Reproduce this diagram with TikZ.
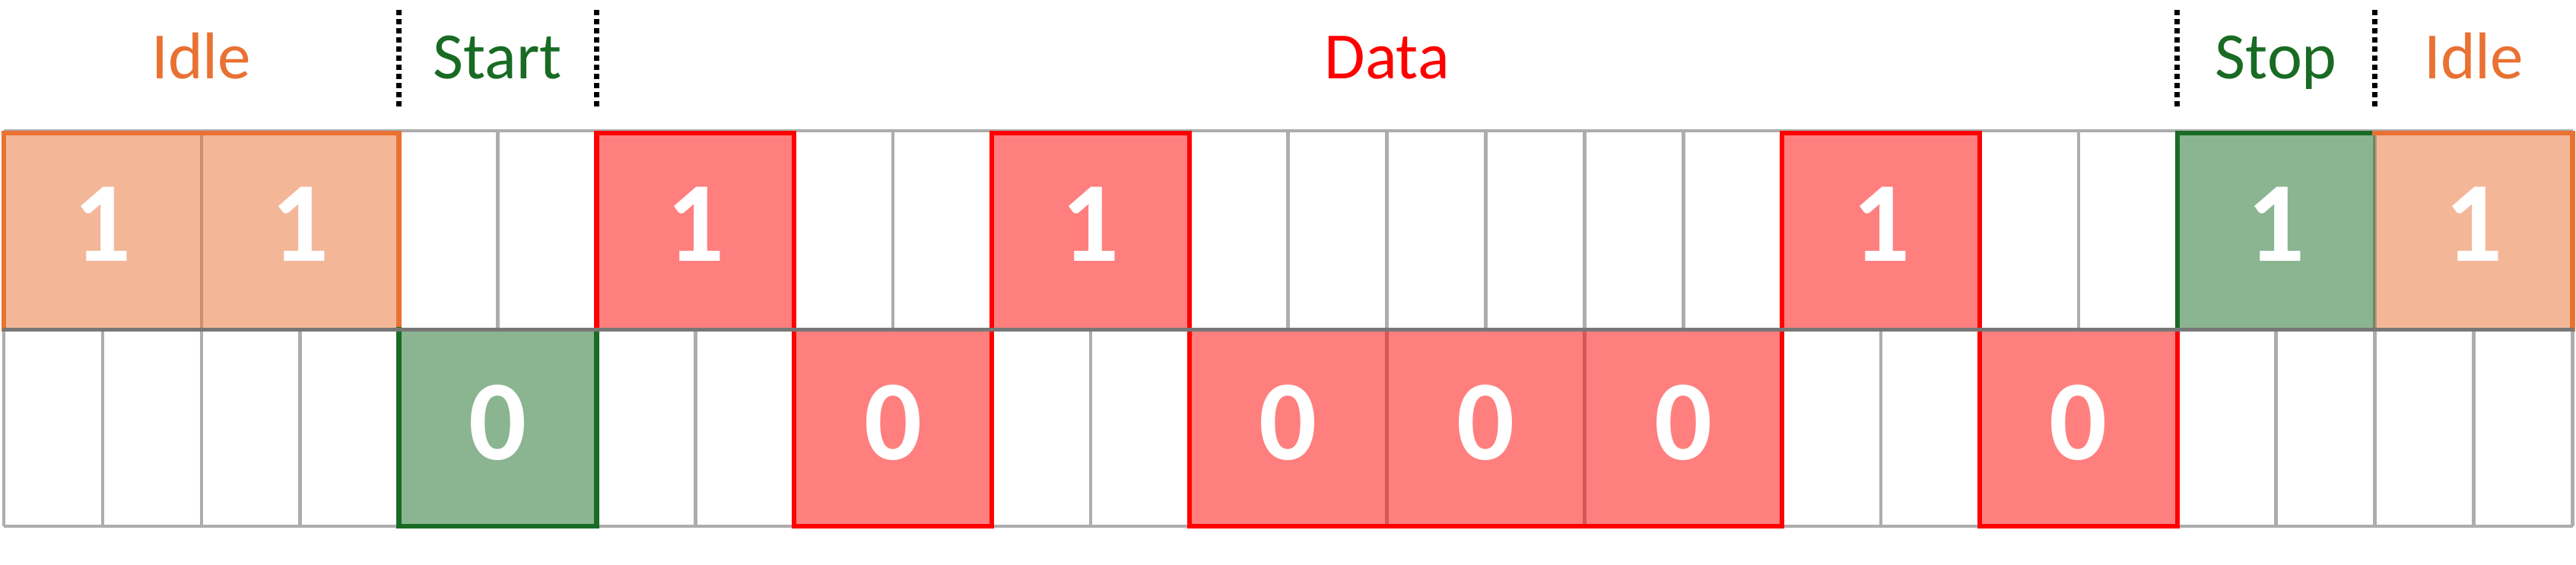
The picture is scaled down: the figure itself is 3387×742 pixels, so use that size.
\documentclass[tikz,border=0pt]{standalone}
\usepackage{fontspec}
\setmainfont{Carlito}
\definecolor{idleC}{HTML}{E97132}
\definecolor{startC}{HTML}{196B24}
\definecolor{dataC}{HTML}{FF0000}
\definecolor{gridC}{HTML}{ADADAD}
\definecolor{midC}{HTML}{777777}
\tikzset{
  gridline/.style={draw=gridC, line width=4.5pt},
  midline/.style={draw=midC, line width=5pt},
  edge/.style={line width=6.5pt, line join=miter, line cap=rect},
  divider/.style={draw=black, line width=7pt, dash pattern=on 7pt off 5pt},
  lbl/.style={anchor=base, inner sep=0pt, font=\fontsize{87}{87}\selectfont},
  digit/.style={anchor=base, inner sep=0pt, text=white, font=\fontsize{150}{150}\selectfont\bfseries},
  cellfill/.style={fill opacity=0.5}
}
\begin{document}
\begin{tikzpicture}[x=1pt, y=-1pt]
\useasboundingbox (0,0) rectangle (3387,742);
\fill[white] (0,0) rectangle (3387,742);
% grid
\draw[gridline] (5,172) -- (3383,172);
\draw[gridline] (5,692) -- (3383,692);
\foreach \k in {0,...,13} {
  \draw[gridline] ({5+\k*259.8},172) -- ({5+\k*259.8},692);
}
% bits: index / level / colour
\foreach \i/\lvl/\col in {0/1/idleC, 1/1/idleC, 2/0/startC, 3/1/dataC, 4/0/dataC, 5/1/dataC, 6/0/dataC, 7/0/dataC, 8/0/dataC, 9/1/dataC, 10/0/dataC, 11/1/startC, 12/1/idleC} {
  \pgfmathsetmacro{\xa}{5+\i*259.8}
  \pgfmathsetmacro{\xm}{\xa+129.9}
  \pgfmathsetmacro{\xb}{\xa+259.8}
  \ifnum\lvl=1
    \draw[gridline] (\xm,433) -- (\xm,692);
    \fill[\col, cellfill] (\xa,174) rectangle (\xb,433);
    \node[digit] (d\i) at (\xm,343) {1};
  \else
    \draw[gridline] (\xm,172) -- (\xm,433);
    \fill[\col, cellfill] (\xa,433) rectangle (\xb,692);
    \node[digit] (d\i) at (\xm,604) {0};
  \fi
}
% waveform outlines
\draw[edge, idleC] (5,433) -- (5,175) -- (524.6,175) -- (524.6,433);
\draw[edge, startC] (524.6,433) -- (524.6,692) -- (784.4,692) -- (784.4,433);
\draw[edge, dataC] (784.4,433) -- (784.4,175) -- (1044.2,175) -- (1044.2,433);
\draw[edge, dataC] (1044.2,433) -- (1044.2,692) -- (1304,692) -- (1304,433);
\draw[edge, dataC] (1304,433) -- (1304,175) -- (1563.8,175) -- (1563.8,433);
\draw[edge, dataC] (1563.8,433) -- (1563.8,692) -- (2343.2,692) -- (2343.2,433);
\draw[edge, dataC] (2343.2,433) -- (2343.2,175) -- (2603,175) -- (2603,433);
\draw[edge, dataC] (2603,433) -- (2603,692) -- (2862.8,692) -- (2862.8,433);
\draw[edge, startC] (2862.8,433) -- (2862.8,175) -- (3122.6,175);
\draw[edge, idleC] (3122.6,175) -- (3382.4,175) -- (3382.4,433);
% middle line
\draw[midline] (3,433) -- (3385,433);
% dividers
\foreach \x in {524.6, 784.4, 2862.8, 3122.6} {
  \draw[divider] (\x,13) -- (\x,141);
}
% labels
\node[lbl, text=idleC] (idleL) at (264.7,103) {Idle};
\node[lbl, text=startC] (startL) at (654.5,103) {Start};
\node[lbl, text=dataC] (dataL) at (1823.6,103) {Data};
\node[lbl, text=startC] (stopL) at (2992.7,103) {Stop};
\node[lbl, text=idleC] (idleR) at (3252.5,103) {Idle};
\end{tikzpicture}
\end{document}
